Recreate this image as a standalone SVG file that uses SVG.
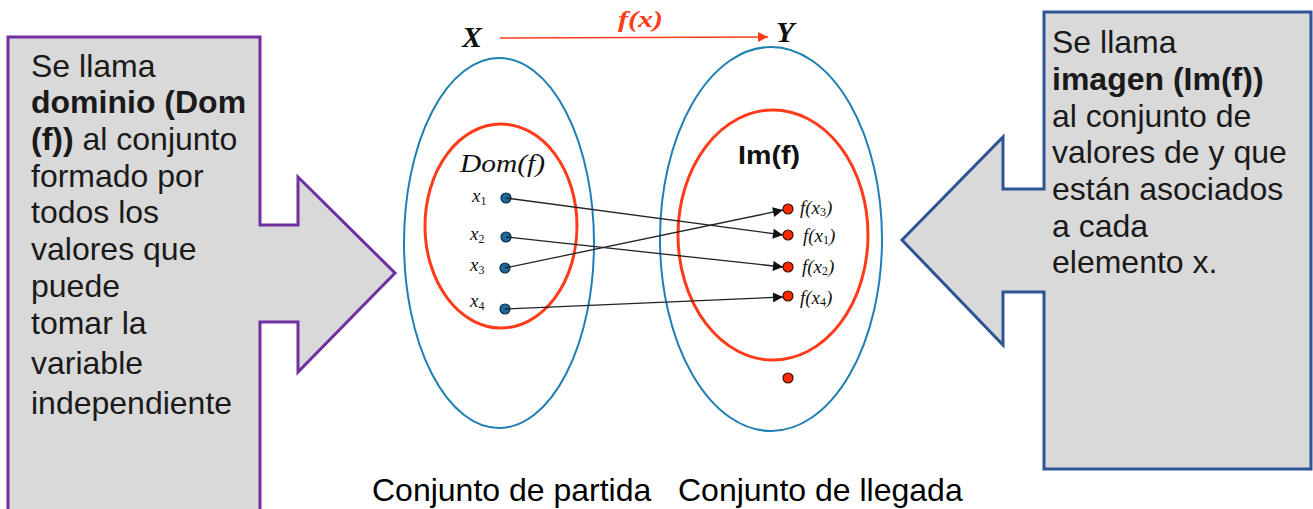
<svg xmlns="http://www.w3.org/2000/svg" width="1313" height="509" viewBox="0 0 1313 509">
<defs>
<style>
.txt{font-family:"Liberation Sans",Arial,sans-serif;font-size:32px;fill:#1a1a1a}
.b{font-weight:bold}
.math{font-family:"Liberation Serif","DejaVu Serif",serif;font-style:italic;fill:#111}
.blue{fill:none;stroke:#1f7fb3;stroke-width:2}
.red{fill:none;stroke:#ff3c1a;stroke-width:3}
.bd{fill:#1b6a9c;stroke:#0a2a40;stroke-width:1.2}
.rd{fill:#ff2a00;stroke:#3a1000;stroke-width:1.2}
.conn{stroke:#222;stroke-width:1.3;fill:none;marker-end:url(#ah)}
</style>
<marker id="ah" viewBox="0 0 10 10" refX="10" refY="5" markerWidth="14" markerHeight="10" markerUnits="userSpaceOnUse" orient="auto">
<path d="M0,0 L10,5 L0,10 z" fill="#111"/>
</marker>
<marker id="rah" viewBox="0 0 10 10" refX="10" refY="5" markerWidth="14" markerHeight="10" markerUnits="userSpaceOnUse" orient="auto">
<path d="M0,0 L10,5 L0,10 z" fill="#ff3c1a"/>
</marker>
</defs>
<rect width="1313" height="509" fill="#fff"/>

<g id="dominio-callout">
<polygon points="8,37 260,37 260,225 298,225 298,177 395,273 298,372 298,322 260,322 260,515 8,515" fill="#d9d9d9" stroke="#7030a0" stroke-width="3"/>
<text class="txt" x="31" y="77">Se llama</text>
<text class="txt b" x="31" y="113">dominio (Dom</text>
<text class="txt" x="31" y="150"><tspan class="b">(f))</tspan> al conjunto</text>
<text class="txt" x="31" y="187">formado por</text>
<text class="txt" x="31" y="223">todos los</text>
<text class="txt" x="31" y="260">valores que</text>
<text class="txt" x="31" y="297">puede</text>
<text class="txt" x="31" y="334">tomar la</text>
<text class="txt" x="31" y="374">variable</text>
<text class="txt" x="31" y="414">independiente</text>
</g>

<g id="imagen-callout">
<polygon points="1044,12 1311,12 1311,469 1044,469 1044,292 1003,292 1003,345 902,240 1003,137 1003,189 1044,189" fill="#d9d9d9" stroke="#2f5496" stroke-width="3"/>
<text class="txt" x="1052" y="53">Se llama</text>
<text class="txt b" x="1052" y="90">imagen (Im(f))</text>
<text class="txt" x="1052" y="127">al conjunto de</text>
<text class="txt" x="1052" y="163">valores de y que</text>
<text class="txt" x="1052" y="200">están asociados</text>
<text class="txt" x="1052" y="237">a cada</text>
<text class="txt" x="1052" y="273">elemento x.</text>
</g>

<g id="set-X">
<ellipse class="blue" cx="499" cy="243" rx="95" ry="185"/>
<text class="math" x="462" y="47" font-size="30" font-weight="bold">X</text>
</g>
<g id="dom-f">
<ellipse class="red" cx="501" cy="226" rx="76" ry="102"/>
<text class="math" x="460" y="172" font-size="25" textLength="85" lengthAdjust="spacingAndGlyphs">Dom(f)</text>
</g>
<g id="set-Y">
<ellipse class="blue" cx="771" cy="239" rx="111" ry="192"/>
<text class="math" x="776" y="42" font-size="30" font-weight="bold">Y</text>
</g>
<g id="im-f">
<ellipse class="red" cx="773" cy="235" rx="95" ry="125"/>
<text x="738" y="164" font-family="Liberation Sans,Arial,sans-serif" font-weight="bold" font-size="26" fill="#111" textLength="62" lengthAdjust="spacingAndGlyphs">Im(f)</text>
</g>

<g id="x-points">
<circle class="bd" cx="506" cy="198" r="5"/>
<circle class="bd" cx="506" cy="237" r="5"/>
<circle class="bd" cx="505" cy="268" r="5"/>
<circle class="bd" cx="505" cy="309" r="5"/>
<text class="math" x="472" y="202" font-size="19">x<tspan font-size="12" dy="3" font-style="normal">1</tspan></text>
<text class="math" x="470" y="240" font-size="19">x<tspan font-size="12" dy="3" font-style="normal">2</tspan></text>
<text class="math" x="470" y="271" font-size="19">x<tspan font-size="12" dy="3" font-style="normal">3</tspan></text>
<text class="math" x="470" y="307" font-size="19">x<tspan font-size="12" dy="3" font-style="normal">4</tspan></text>
</g>

<g id="y-points">
<circle class="rd" cx="788" cy="209" r="5"/>
<circle class="rd" cx="788" cy="235" r="5"/>
<circle class="rd" cx="788" cy="267" r="5"/>
<circle class="rd" cx="788" cy="296" r="5"/>
<circle class="rd" cx="788" cy="378" r="5"/>
<text class="math" x="800" y="214" font-size="19">f(x<tspan font-size="12" dy="2" font-style="normal">3</tspan><tspan dy="-2">)</tspan></text>
<text class="math" x="803" y="242" font-size="19">f(x<tspan font-size="12" dy="2" font-style="normal">1</tspan><tspan dy="-2">)</tspan></text>
<text class="math" x="802" y="273" font-size="19">f(x<tspan font-size="12" dy="2" font-style="normal">2</tspan><tspan dy="-2">)</tspan></text>
<text class="math" x="800" y="304" font-size="19">f(x<tspan font-size="12" dy="2" font-style="normal">4</tspan><tspan dy="-2">)</tspan></text>
</g>

<g id="connectors">
<line class="conn" x1="506" y1="198" x2="783" y2="235"/>
<line class="conn" x1="506" y1="237" x2="783" y2="267"/>
<line class="conn" x1="505" y1="268" x2="783" y2="210"/>
<line class="conn" x1="505" y1="309" x2="783" y2="297"/>
<line x1="500" y1="38" x2="768" y2="37" stroke="#ff3c1a" stroke-width="1.6" marker-end="url(#rah)"/>
<text class="math" x="618" y="27" font-size="23" font-weight="bold" style="fill:#ff3c1a" textLength="45" lengthAdjust="spacingAndGlyphs">f(x)</text>
</g>

<g id="bottom-labels">
<text class="txt" x="372" y="501" style="fill:#000">Conjunto de partida</text>
<text class="txt" x="678" y="501" style="fill:#000">Conjunto de llegada</text>
</g>
</svg>
